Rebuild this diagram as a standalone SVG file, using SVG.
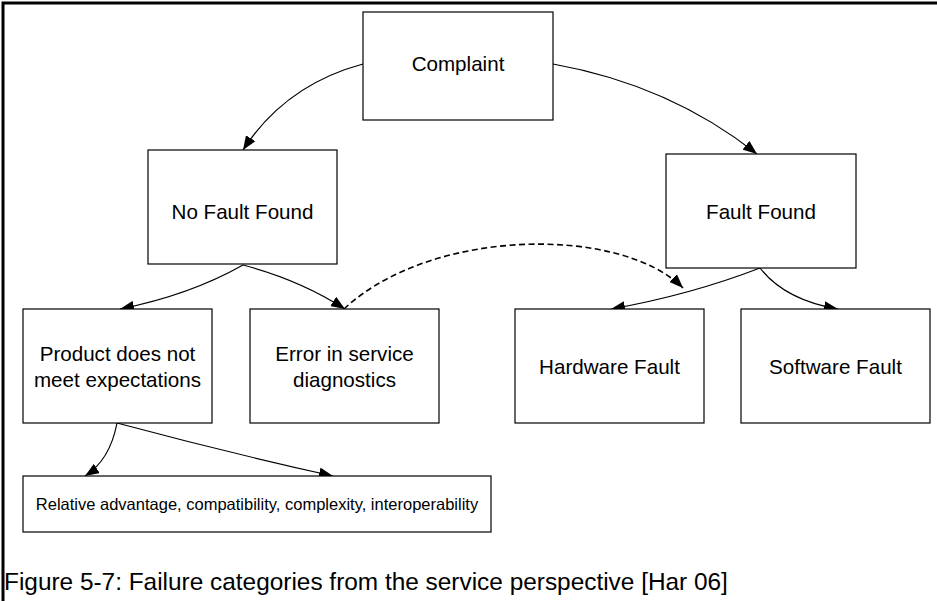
<svg xmlns="http://www.w3.org/2000/svg" width="937" height="601" viewBox="0 0 937 601">
  <style>
    .box { fill: #ffffff; stroke: #000000; stroke-width: 1.2; }
    .lbl { font-family: "Liberation Sans", Arial, sans-serif; font-size: 20.6px; fill: #000000; text-anchor: middle; }
    .small { font-size: 16.5px; }
    .edge { fill: none; stroke: #000000; stroke-width: 1.2; marker-end: url(#arrow); }
    .dashed { stroke-dasharray: 6 3.5; stroke-width: 1.6; }
    .caption { font-family: "Liberation Sans", Arial, sans-serif; font-size: 24.4px; fill: #000000; }
  </style>
  <defs>
    <marker id="arrow" viewBox="0 0 14 11" refX="14" refY="5.5" markerWidth="14" markerHeight="11" markerUnits="userSpaceOnUse" orient="auto">
      <path d="M0,0 L14,5.5 L0,11 Z" fill="#000000"/>
    </marker>
  </defs>

  <rect width="937" height="601" fill="#ffffff"/>

  <!-- frame: top and left rules only -->
  <path d="M3,601 L3,3 L937,3" fill="none" stroke="#000000" stroke-width="3"/>

  <g id="connectors">
    <path class="edge" d="M363,64 Q285,85 243,150"/>
    <path class="edge" d="M553,64 Q670,85 757,154"/>
    <path class="edge" d="M243,265 Q190,295 120,309"/>
    <path class="edge" d="M243,265 Q300,280 345,309"/>
    <path class="edge dashed" d="M344,309 C430,228 620,225 683,288"/>
    <path class="edge" d="M760,268 Q690,295 611,309"/>
    <path class="edge" d="M760,268 Q785,300 838,309"/>
    <path class="edge" d="M117,423 Q110,460 85,476"/>
    <path class="edge" d="M117,423 Q225,452 333,476"/>
  </g>

  <g id="complaint">
    <rect class="box" x="363" y="12" width="190" height="108"/>
    <text class="lbl" x="458" y="71">Complaint</text>
  </g>

  <g id="no-fault-found">
    <rect class="box" x="148" y="150" width="189" height="114"/>
    <text class="lbl" x="242.5" y="219">No Fault Found</text>
  </g>

  <g id="fault-found">
    <rect class="box" x="666" y="154" width="190" height="114"/>
    <text class="lbl" x="761" y="219">Fault Found</text>
  </g>

  <g id="product-expectations">
    <rect class="box" x="23" y="309" width="189" height="114"/>
    <text class="lbl" x="117.5" y="361">Product does not</text>
    <text class="lbl" x="117.5" y="387">meet expectations</text>
  </g>

  <g id="service-diagnostics">
    <rect class="box" x="250" y="309" width="189" height="114"/>
    <text class="lbl" x="344.5" y="361">Error in service</text>
    <text class="lbl" x="344.5" y="387">diagnostics</text>
  </g>

  <g id="hardware-fault">
    <rect class="box" x="515" y="309" width="189" height="114"/>
    <text class="lbl" x="609.5" y="374">Hardware Fault</text>
  </g>

  <g id="software-fault">
    <rect class="box" x="741" y="309" width="189" height="114"/>
    <text class="lbl" x="835.5" y="374">Software Fault</text>
  </g>

  <g id="adoption-factors">
    <rect class="box" x="23" y="476" width="468" height="56"/>
    <text class="lbl small" x="257" y="510">Relative advantage, compatibility, complexity, interoperability</text>
  </g>

  <text class="caption" x="4" y="590">Figure 5-7: Failure categories from the service perspective [Har 06]</text>
</svg>
